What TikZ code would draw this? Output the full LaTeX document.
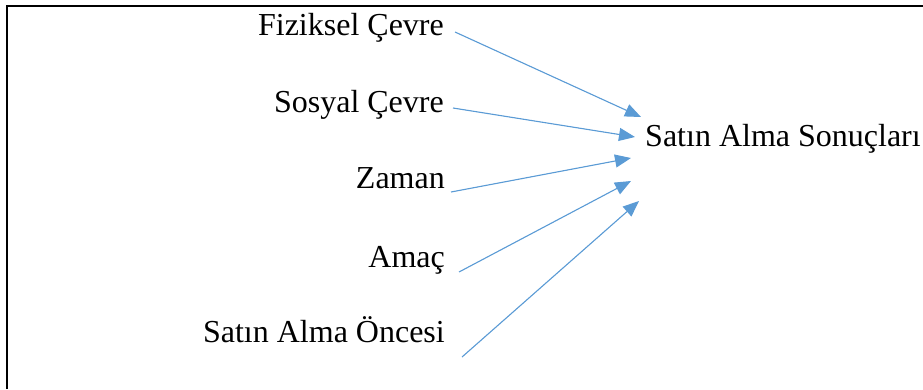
\documentclass[tikz,border=0pt]{standalone}
\usepackage{fontspec}
\setmainfont{Liberation Serif}
\usetikzlibrary{arrows.meta}
\definecolor{arrowblue}{HTML}{5B9BD5}
\begin{document}
\begin{tikzpicture}[x=1pt,y=-1pt,
  lbl/.style={inner sep=0pt,font=\fontsize{32}{36}\selectfont},
  src/.style={lbl,anchor=base east},
  conn/.style={draw=arrowblue,line width=1.1pt,-{Triangle[length=16pt,width=13pt]},fill=arrowblue}]
\useasboundingbox (0,0) rectangle (923,389);
\draw[line width=2pt] (7,389) -- (7,6) -- (923,6);
\node[src] (f1) at (444,35) {Fiziksel Çevre};
\node[src] (f2) at (444,112) {Sosyal Çevre};
\node[src] (f3) at (445,188) {Zaman};
\node[src] (f4) at (445,267) {Amaç};
\node[src] (f5) at (445,342) {Satın Alma Öncesi};
\node[lbl,anchor=base west] (t) at (645,146) {Satın Alma Sonuçları};
\coordinate (s1) at (455,32);
\coordinate (s2) at (453,108);
\coordinate (s3) at (451,192);
\coordinate (s4) at (459,272);
\coordinate (s5) at (462,357);
\coordinate (e1) at (641,117);
\coordinate (e2) at (635,137);
\coordinate (e3) at (631,158);
\coordinate (e4) at (631,181);
\coordinate (e5) at (639,201);
\foreach \i in {1,...,5} {\draw[conn] (s\i) -- (e\i);}
\end{tikzpicture}
\end{document}
